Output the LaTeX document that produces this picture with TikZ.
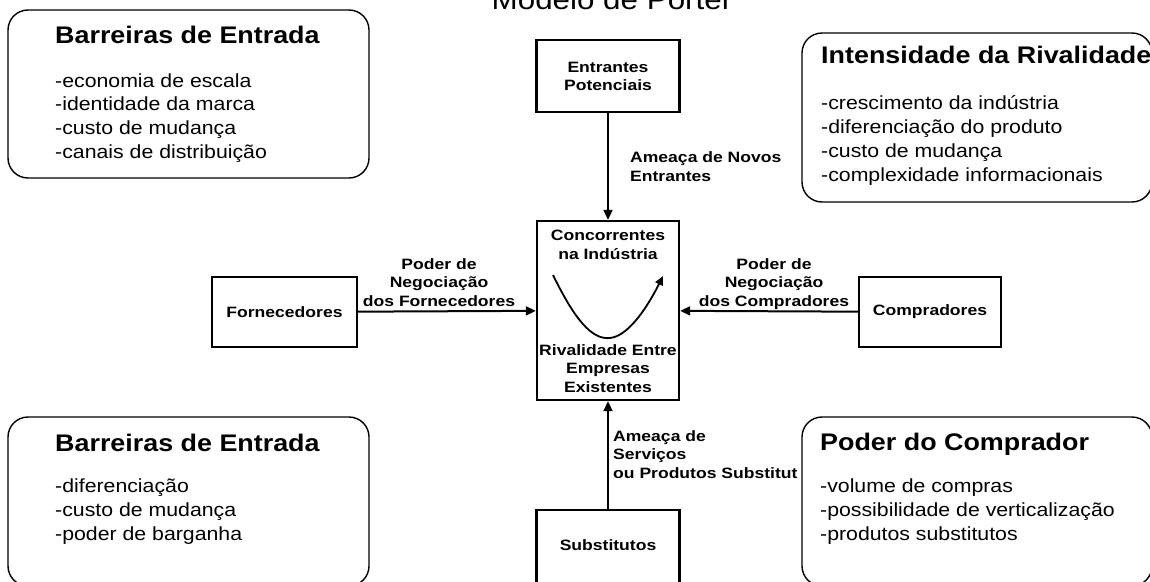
\documentclass[tikz,border=0pt]{standalone}
\usepackage{fontspec}
\setmainfont{Liberation Sans}
\newfontfamily\wideface{Liberation Sans}[FakeStretch=1.12]
\newfontfamily\boxface{Liberation Sans}[FakeStretch=1.17]
\usetikzlibrary{arrows.meta}

% multi-line nodes below sit on the baseline of their last line
\tikzset{
  panel/.style={draw, line width=1.4pt, rounded corners=20pt},
  forcebox/.style={draw, line width=2.4pt, rectangle, inner sep=0pt,
    font=\boxface\bfseries\fontsize{15}{18}\selectfont, align=center},
  head/.style={font=\wideface\bfseries\fontsize{24}{28}\selectfont,
    anchor=base west, inner sep=0pt},
  items/.style={font=\wideface\fontsize{19}{23.8}\selectfont,
    anchor=base west, align=left, inner sep=0pt},
  lbl/.style={font=\boxface\bfseries\fontsize{15}{18.3}\selectfont,
    inner sep=0pt, anchor=base},
  flow/.style={line width=2pt, -{Triangle[length=10pt,width=9pt]}},
}

\begin{document}
\begin{tikzpicture}[x=1pt,y=-1pt]
\useasboundingbox (0,0) rectangle (1150,581);

% title
\node[font=\wideface\fontsize{28}{32}\selectfont, anchor=base, inner sep=0pt]
  (title) at (612,9) {Modelo de Porter};

% four information panels
\draw[panel] (8,10) rectangle (369,178);
\node[head] (tl-head) at (55,43) {Barreiras de Entrada};
\node[items] (tl-items) at (55,158.5) {-economia de escala\\-identidade da marca\\-custo de  mudança\\-canais de  distribuição};

\draw[panel] (802,33) rectangle (1152,202);
\node[head] (tr-head) at (821,63) {Intensidade da Rivalidade};
\node[items] (tr-items) at (821,181) {-crescimento da indústria\\-diferenciação do produto\\-custo de  mudança\\-complexidade informacionais};

\draw[panel] (8,417) rectangle (369,586);
\node[head] (bl-head) at (55,451) {Barreiras de Entrada};
\node[items] (bl-items) at (55,540) {-diferenciação\\-custo de  mudança\\-poder de barganha};

\draw[panel] (802,417) rectangle (1152,586);
\node[head] (br-head) at (820,450) {Poder do Comprador};
\node[items] (br-items) at (820,540) {-volume de compras\\-possibilidade de verticalização\\-produtos substitutos};

% the five forces
\node[forcebox, minimum width=143pt, minimum height=72pt] (ent) at (608,76)
  {Entrantes\\Potenciais};
\node[forcebox, minimum width=142pt, minimum height=179pt] (conc) at (608,310.5) {};
\node[forcebox, minimum width=145pt, minimum height=70pt] (forn) at (284.5,312)
  {Fornecedores};
\node[forcebox, minimum width=142pt, minimum height=70pt] (comp) at (930,312)
  {Compradores};
\node[forcebox, minimum width=143pt, minimum height=80pt] (subs) at (608,550) {};
\node[lbl] (subs-t) at (608,550) {Substitutos};

% texts and growth curve inside the central box
\node[lbl, align=center] (conc-top) at (608,259) {Concorrentes\\na Indústria};
\node[lbl, align=center] (conc-bot) at (608,392) {Rivalidade Entre\\Empresas\\Existentes};
\draw[line width=1.8pt, -{Triangle[length=9pt,width=8pt]}]
  (553,275) .. controls (575,320) and (592,340) .. (610,338)
  .. controls (630,336) and (650,302) .. (663,276);

% connectors
\draw[flow] (ent) -- (conc);
\draw[flow] (forn) -- (conc);
\draw[flow] (comp) -- (conc);
\draw[flow] (subs) -- (conc);

% connector labels
\node[lbl, anchor=base west, align=left] (l-ent) at (630,181) {Ameaça de Novos\\Entrantes};
\node[lbl, align=center] (l-forn) at (439,306) {Poder de\\Negociação\\dos Fornecedores};
\node[lbl, align=center] (l-comp) at (774,306) {Poder de\\Negociação\\dos Compradores};
\node[lbl, anchor=base west, align=left] (l-subs) at (613,478) {Ameaça de\\Serviços\\ou Produtos Substitut};
\end{tikzpicture}
\end{document}
